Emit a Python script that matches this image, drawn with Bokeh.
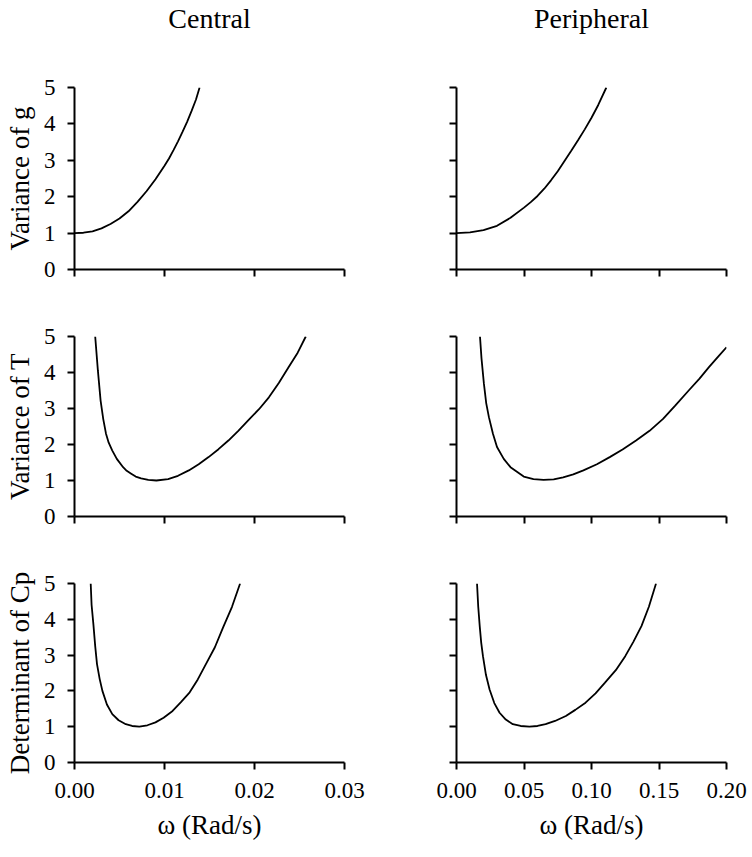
from bokeh.plotting import figure
from bokeh.layouts import column, row
from bokeh.models import (Range1d, FixedTicker, NumeralTickFormatter, CustomLabelingPolicy,
                          LinearAxis, Title)
from bokeh.embed import file_html
from bokeh.resources import INLINE

# ---------------- data ----------------
col_titles = ["Central", "Peripheral"]
row_labels = ["Variance of g", "Variance of T", "Determinant of Cp"]
x_axis_label = "ω (Rad/s)"

y_ticks = [0, 1, 2, 3, 4, 5]
x_ticks_central = [0.0, 0.01, 0.02, 0.03]
x_tick_labels_central = ["0.00", "0.01", "0.02", "0.03"]
x_ticks_peripheral = [0.0, 0.05, 0.10, 0.15, 0.20]
x_tick_labels_peripheral = ["0.00", "0.05", "0.10", "0.15", "0.20"]

# Variance of g
var_g_central_w = [0.0, 0.001, 0.002, 0.003, 0.004, 0.005, 0.006, 0.007, 0.008,
                   0.009, 0.010, 0.0105, 0.011, 0.0115, 0.012, 0.0125, 0.013,
                   0.0135, 0.0139]
var_g_central_v = [1.00, 1.01, 1.05, 1.13, 1.25, 1.40, 1.60, 1.86, 2.15,
                   2.48, 2.85, 3.05, 3.28, 3.52, 3.78, 4.05, 4.35,
                   4.67, 5.0]
var_g_periph_w = [0.0, 0.01, 0.02, 0.03, 0.04, 0.05, 0.055, 0.06, 0.065,
                  0.07, 0.075, 0.08, 0.085, 0.09, 0.095, 0.10, 0.105, 0.111]
var_g_periph_v = [1.0, 1.02, 1.08, 1.20, 1.42, 1.70, 1.85, 2.02, 2.22,
                  2.45, 2.70, 2.98, 3.26, 3.55, 3.85, 4.17, 4.52, 5.0]

# Variance of T
var_t_central_w = [0.0023, 0.0026, 0.0029, 0.0032, 0.0035, 0.0038, 0.0042,
                   0.0047, 0.0054, 0.0058, 0.0063, 0.0068, 0.0074, 0.0082,
                   0.0091, 0.0104, 0.0115, 0.0127, 0.0138, 0.0149, 0.0160,
                   0.0171, 0.0182, 0.0193, 0.0205, 0.0216, 0.0227, 0.0238,
                   0.0248, 0.0257]
var_t_central_v = [5.0, 4.05, 3.22, 2.70, 2.30, 2.05, 1.83,
                   1.60, 1.37, 1.27, 1.19, 1.11, 1.06, 1.02,
                   1.00, 1.04, 1.13, 1.28, 1.45, 1.65, 1.87,
                   2.11, 2.38, 2.67, 2.98, 3.31, 3.71, 4.15,
                   4.55, 5.0]
var_t_periph_w = [0.0174, 0.0185, 0.0203, 0.022, 0.024, 0.027, 0.030, 0.035,
                  0.040, 0.0498, 0.057, 0.0645, 0.072, 0.079, 0.0865, 0.094,
                  0.104, 0.1135, 0.123, 0.133, 0.143, 0.153, 0.162, 0.172,
                  0.180, 0.187, 0.194, 0.200]
var_t_periph_v = [5.0, 4.40, 3.69, 3.15, 2.76, 2.30, 1.93, 1.60,
                  1.37, 1.11, 1.04, 1.02, 1.03, 1.09, 1.17, 1.28,
                  1.45, 1.65, 1.86, 2.11, 2.38, 2.71, 3.08, 3.50,
                  3.83, 4.15, 4.45, 4.70]

# Determinant of Cp
det_cp_central_w = [0.0018, 0.0019, 0.0021, 0.0023, 0.0025, 0.0028, 0.0031,
                    0.0036, 0.0042, 0.0049, 0.0057, 0.0064, 0.0072, 0.0081,
                    0.0090, 0.0099, 0.0109, 0.0118, 0.0128, 0.0137, 0.0146,
                    0.0156, 0.0165, 0.0175, 0.0184]
det_cp_central_v = [5.0, 4.40, 3.86, 3.25, 2.75, 2.33, 2.00,
                    1.62, 1.35, 1.18, 1.07, 1.02, 1.00, 1.04,
                    1.12, 1.25, 1.44, 1.68, 1.96, 2.32, 2.75,
                    3.22, 3.77, 4.35, 5.0]
det_cp_periph_w = [0.0152, 0.0161, 0.0172, 0.0183, 0.0196, 0.0218, 0.0245,
                   0.028, 0.0319, 0.0365, 0.0417, 0.0475, 0.054, 0.060,
                   0.066, 0.073, 0.081, 0.088, 0.0956, 0.103, 0.110, 0.118,
                   0.125, 0.131, 0.137, 0.1425, 0.1478]
det_cp_periph_v = [5.0, 4.35, 3.81, 3.35, 2.97, 2.45, 2.04,
                   1.66, 1.39, 1.20, 1.07, 1.02, 1.00, 1.02,
                   1.07, 1.16, 1.30, 1.47, 1.67, 1.93, 2.23, 2.58,
                   2.97, 3.37, 3.81, 4.35, 5.0]

# ---------------- styling ----------------
FONT = "Liberation Serif"
FRAME_W = 270
LEFT_W, RIGHT_W = 380, 372
LEFT_BL, RIGHT_BL = 74, 76
ROWS = [  # (height, top border, bottom border)
    (319, 87, 50),
    (247, 17, 50),
    (286, 17, 90),
]


def make_panel(xs, ys, col, r):
    height, bt, bb = ROWS[r]
    if col == 0:
        w, bl = LEFT_W, LEFT_BL
        ticks, labels = x_ticks_central, x_tick_labels_central
    else:
        w, bl = RIGHT_W, RIGHT_BL
        ticks, labels = x_ticks_peripheral, x_tick_labels_peripheral
    br = w - bl - FRAME_W
    p = figure(width=w, height=height, output_backend="svg", toolbar_location=None,
               x_range=Range1d(ticks[0], ticks[-1]), y_range=Range1d(y_ticks[0], y_ticks[-1]),
               min_border_left=bl, min_border_right=br,
               min_border_top=bt, min_border_bottom=bb)
    p.grid.visible = False
    p.outline_line_color = None
    p.background_fill_color = "white"
    p.border_fill_color = "white"

    for ax in (p.xaxis[0], p.yaxis[0]):
        ax.axis_line_width = 2
        ax.axis_line_color = "black"
        ax.major_tick_line_width = 2
        ax.major_tick_line_color = "black"
        ax.major_tick_out = 7
        ax.major_tick_in = 0
        ax.minor_tick_out = 0
        ax.minor_tick_in = 0
        ax.major_label_text_font = FONT
        ax.major_label_text_font_size = "23px"
        ax.major_label_text_color = "black"
        ax.axis_label_text_font = FONT
        ax.axis_label_text_font_style = "normal"
        ax.axis_label_text_color = "black"

    p.xaxis.ticker = FixedTicker(ticks=ticks)
    p.xaxis.formatter = NumeralTickFormatter(format="0.00")
    p.xaxis.major_label_overrides = {t: l for t, l in zip(ticks, labels)}
    p.xaxis.major_label_standoff = 13
    p.yaxis.ticker = FixedTicker(ticks=y_ticks)
    p.yaxis.major_label_standoff = 12

    if r == 2:
        p.xaxis.axis_label = x_axis_label
        p.xaxis.axis_label_text_font_size = "27px"
        p.xaxis.axis_label_standoff = 9
    else:
        p.xaxis.major_label_policy = CustomLabelingPolicy(code="return []")

    if col == 0:
        p.yaxis.axis_label = row_labels[r]
        p.yaxis.axis_label_text_font_size = "27px"
        p.yaxis.axis_label_standoff = 6
    else:
        p.yaxis.major_label_policy = CustomLabelingPolicy(code="return []")

    if r == 0:
        # invisible spacer next to the frame, then the column title further out
        spacer = LinearAxis(ticker=FixedTicker(ticks=[ticks[0]]), axis_line_color=None,
                            major_tick_line_color=None, major_tick_out=34, major_tick_in=0,
                            minor_tick_out=0, minor_tick_in=0, major_label_standoff=0,
                            major_label_text_font_size="23px",
                            major_label_policy=CustomLabelingPolicy(code="return []"))
        p.add_layout(spacer, "above")
        p.add_layout(Title(text=col_titles[col], align="center", vertical_align="bottom",
                           standoff=0, text_font=FONT, text_font_size="28px",
                           text_font_style="normal", text_color="black"), "above")

    p.line(xs, ys, line_width=1.8, line_color="black")
    return p


panels = [
    [(var_g_central_w, var_g_central_v), (var_g_periph_w, var_g_periph_v)],
    [(var_t_central_w, var_t_central_v), (var_t_periph_w, var_t_periph_v)],
    [(det_cp_central_w, det_cp_central_v), (det_cp_periph_w, det_cp_periph_v)],
]

rows = []
for r, pair in enumerate(panels):
    figs = [make_panel(xs, ys, c, r) for c, (xs, ys) in enumerate(pair)]
    rows.append(row(*figs))

layout = column(*rows)
open("out.html", "w").write(file_html(layout, INLINE))
